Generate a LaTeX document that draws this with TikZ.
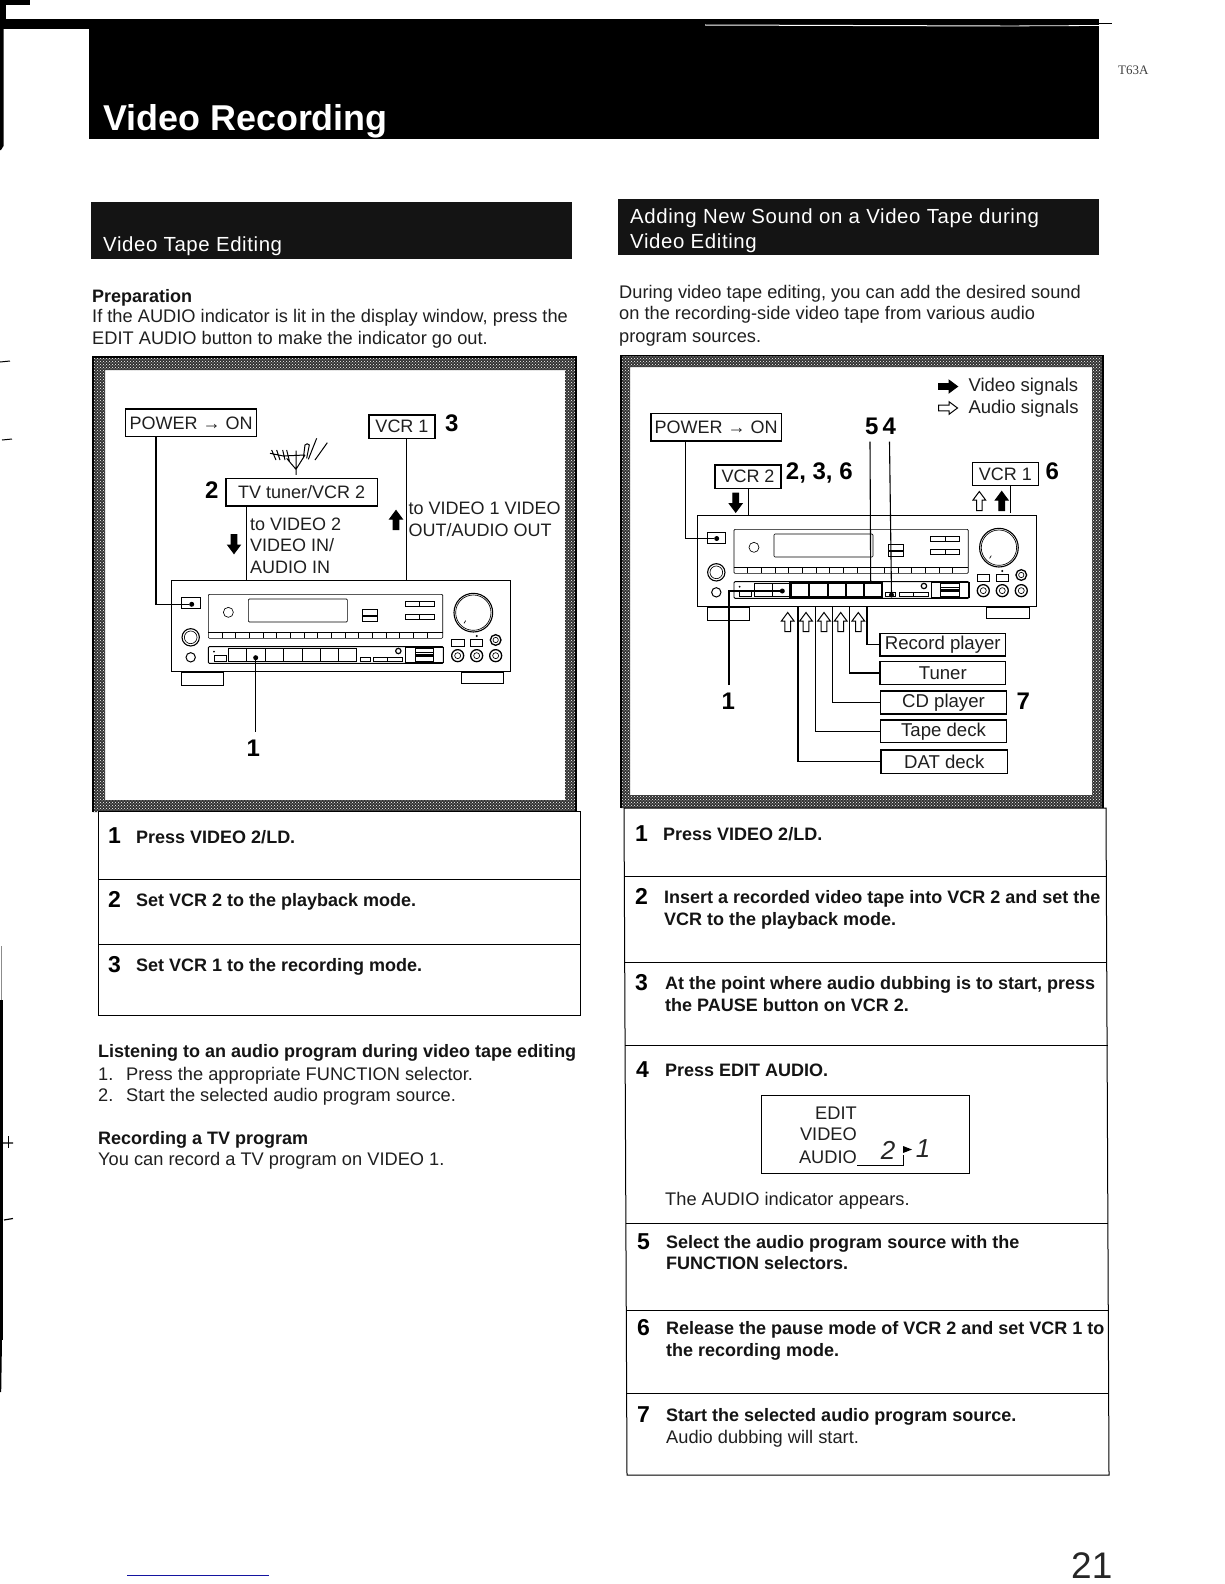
\documentclass[tikz,border=0pt]{standalone}
\usepackage{fontspec}
\setmainfont{Liberation Sans}
\newfontfamily\headfont[LetterSpace=3]{Liberation Sans}
\newfontfamily\serifsmall{Liberation Serif}
\usetikzlibrary{patterns}
\definecolor{framegray}{gray}{0.2}
\definecolor{linkblue}{RGB}{20,20,160}
\tikzset{
 body/.style={font=\fontsize{18.25}{21}\selectfont,anchor=base west,inner sep=0pt,text=black!88},
 stepb/.style={font=\bfseries\fontsize{18}{21}\selectfont,anchor=base west,inner sep=0pt,text=black!92},
 num/.style={font=\bfseries\fontsize{23}{26}\selectfont,anchor=base west,inner sep=0pt},
 callout/.style={font=\bfseries\fontsize{24}{26}\selectfont,inner sep=0pt},
 diag/.style={font=\fontsize{18}{22}\selectfont,anchor=base west,inner sep=0pt,text=black!88},
 lbox/.style={draw=black,line width=1.4pt,fill=white,inner sep=0pt,font=\fontsize{18}{22}\selectfont,text=black!88},
 srcbox/.style={lbox,font=\fontsize{18.6}{22}\selectfont},
 wire/.style={draw=black,line width=1.1pt},
 rule/.style={draw=black,line width=1pt},
 subhead/.style={font=\headfont\fontsize{20.4}{23}\selectfont,anchor=base west,inner sep=0pt,text=white},
 rcv/.style={draw=black,line width=0.65pt},
 tip/.style={circle,fill=black,inner sep=0pt,minimum size=5pt},
}
\newcommand{\barrow}[4]{\begin{scope}[shift={(#1,#2)},rotate=#3,x=1pt,y=1pt]
 \draw[line width=1pt,fill=#4] (0,9.5)--(-6.3,1)--(-2.8,1)--(-2.8,-9.5)--(2.8,-9.5)--(2.8,1)--(6.3,1)--cycle;
\end{scope}}
\newcommand{\myreceiver}[2]{\begin{scope}[shift={(#1,#2)},x=0.3333pt,y=-0.3333pt]
 \draw[rcv,line width=0.9pt] (0,0) rectangle (1017,275);
 \draw[rcv] (30,278) rectangle (155,315);
 \draw[rcv] (868,278) rectangle (995,310);
 \draw[rcv,line width=0.9pt] (30,53) rectangle (85,85);
 \draw[rcv,rounded corners=1pt] (110,43) rectangle (813,175);
 \draw[rcv] (170,97) circle (15);
 \draw[rcv,rounded corners=1pt] (230,57) rectangle (527,126);
 \draw[rcv] (572,88) rectangle (617,105) (572,108) rectangle (617,124);
 \draw[rcv] (700,65) rectangle (787,80) (743,65)--(743,80) (700,102) rectangle (787,117) (743,102)--(743,117);
 \draw[rcv,line width=1.1pt] (905,98) circle (58);
 \draw[rcv] (905,98) circle (53);
 \draw[rcv] (877,130)--(882,122);
 \draw[rcv] (110,158)--(813,158);
 \foreach \k in {151,192,233,274,315,356,397,438,479,520,561,602,643,684,725,766}{\draw[rcv] (\k,158)--(\k,175);}
 \draw[rcv,line width=1.1pt] (57,172) circle (26);
 \draw[rcv] (57,172) circle (19);
 \draw[rcv,line width=1pt] (57,232) circle (14);
 \draw[rcv,rounded corners=1pt,line width=0.9pt] (110,200) rectangle (815,250);
 \draw[rcv] (127,225) rectangle (163,245);
 \fill (127,215) circle (3);
 \draw[rcv] (170,205)--(170,245)--(555,245)--(555,205)--cycle;
 \foreach \k in {225,282,335,392,447,500}{\draw[rcv] (\k,205)--(\k,245);}
 \draw[rcv] (565,233) rectangle (595,245) (605,233) rectangle (693,245) (648,233)--(648,245);
 \draw[rcv,line width=1.2pt] (680,213) circle (8);
 \draw[rcv,line width=1.2pt] (702,202) rectangle (815,248);
 \draw[rcv] (730,205) rectangle (785,245) (730,218)--(785,218) (730,230)--(785,230);
 \fill (730,222) rectangle (785,227);
 \draw[rcv] (840,178) rectangle (877,198) (897,178) rectangle (933,198);
 \fill (915,168) circle (3.5);
 \draw[rcv,line width=1.3pt] (972,180) circle (16);
 \draw[rcv] (972,180) circle (8);
 \foreach \k in {858,915,972}{\draw[rcv,line width=1.3pt] (\k,227) circle (18); \draw[rcv] (\k,227) circle (9);}
\end{scope}}
\begin{document}
\begin{tikzpicture}[x=1pt,y=-1pt]
\useasboundingbox (0,0) rectangle (1224,1584);
% scan edge marks
\fill[black] (0,0) rectangle (30,5);
\fill[black] (0,5) rectangle (6,29);
\fill[black] (0,19.5) rectangle (90,29);
\fill[black] (0,29) -- (3.5,29) -- (3.5,146) -- (1,150) -- (0,150) -- cycle;
\draw[black,line width=0.7pt] (1099,23)--(1112,23);
\draw[black!45,line width=1pt] (1,946)--(1,1000);
\fill[black] (0,1000) rectangle (2.6,1340);
\fill[black] (0,1340) -- (2,1340) -- (1.2,1392) -- (0,1392) -- cycle;
\draw[black,line width=1pt] (0,362)--(10,361) (2,440)--(12,439);
\draw[black,line width=1.2pt] (3,1143)--(13,1143) (4,1220)--(13,1218.5);
\draw[black,line width=0.7pt] (8,1136)--(8,1148);
% header
\fill[black] (89,19.5) rectangle (1099,139);
\draw[white,line width=1pt] (705,25) -- (1000,26);
\draw[white,line width=0.8pt] (1000,26) -- (1099,25.5);
\node[font=\bfseries\fontsize{35.9}{40}\selectfont,text=white,anchor=base west,inner sep=0pt] (title) at (103,131) {Video Recording};
\node[font=\serifsmall\fontsize{13}{15}\selectfont,anchor=base west,inner sep=0pt,text=black!75] (code) at (1118,75) {T63A};
% sub heads
\fill[black!92] (91,202) rectangle (572,259);
\node[subhead] (shl) at (103,251) {Video Tape Editing};
\fill[black!92] (618,199) rectangle (1099,255);
\node[subhead] (shr1) at (630,223) {Adding New Sound on a Video Tape during};
\node[subhead] (shr2) at (630,248) {Video Editing};
% left intro
\node[stepb] (p0) at (92,302) {Preparation};
\node[body] (p1) at (92,322) {If the AUDIO indicator is lit in the display window, press the};
\node[body] (p2) at (92,344) {EDIT AUDIO button to make the indicator go out.};
% right intro
\node[body] (q1) at (619,298) {During video tape editing, you can add the desired sound};
\node[body] (q2) at (619,319) {on the recording-side video tape from various audio};
\node[body] (q3) at (619,342) {program sources.};
% frames
\fill[framegray,even odd rule] (93,358) rectangle (576,812) (105,370) rectangle (565,800);
\fill[pattern=crosshatch dots,pattern color=white,even odd rule] (93,358) rectangle (576,812) (105,370) rectangle (565,800);
\draw[black,line width=1.5pt] (93,812)--(93,357)--(576,357)--(576,812);
\fill[framegray,even odd rule] (621,356) rectangle (1103,808) (630,367) rectangle (1092,795);
\fill[pattern=crosshatch dots,pattern color=white,even odd rule] (621,356) rectangle (1103,808) (630,367) rectangle (1092,795);
\draw[black,line width=1.5pt] (621,808)--(621,355.5)--(1103,355.5)--(1103,808);
% left receiver
\myreceiver{171.7}{580}
\node[lbox,minimum width=131pt,minimum height=27.7pt] (lpower) at (191.2,422.8) {POWER → ON};
\node[lbox,minimum width=66pt,minimum height=23.3pt] (lvcr1) at (402,426.6) {VCR 1};
\node[callout] (c3) at (451.7,423.3) {3};
\node[lbox,minimum width=151.3pt,minimum height=27.7pt] (ltuner) at (301.6,492.2) {TV tuner/VCR 2};
\node[callout] (c2) at (211.7,490) {2};
\node[diag] (t1) at (250,530) {to VIDEO 2};
\node[diag] (t2) at (250,551) {VIDEO IN/};
\node[diag] (t3) at (250,573) {AUDIO IN};
\node[diag] (t4) at (408.3,514) {to VIDEO 1 VIDEO};
\node[diag] (t5) at (408.3,536) {OUT/AUDIO OUT};
\node[callout] (c1) at (253.3,748.3) {1};
\coordinate (lpa) at (156,604.3);
\node[tip] (lpd) at (191.7,604.3) {};
\draw[wire] (lpower.south -| lpa) -- (lpa) -- (lpd);
\coordinate (lvt) at (406.5,580);
\draw[wire] (lvcr1.south -| lvt) -- (lvt);
\coordinate (ltt) at (246.5,580);
\draw[wire] (ltuner.south -| ltt) -- (ltt);
\node[tip] (l1d) at (255.7,657.7) {};
\coordinate (l1e) at (255.7,731.7);
\draw[wire] (l1d) -- (l1e);
\barrow{234}{544}{180}{black}
\barrow{396}{520}{0}{black}
% antenna
\begin{scope}[shift={(270,430)},x=0.3333pt,y=-0.3333pt]
 \draw[line width=1pt] (0,70)--(40,78)--(105,75) (5,60)--(18,90) (20,60)--(30,90) (38,60)--(45,90) (50,60)--(58,92) (50,85)--(78,118)--(105,75) (78,62)--(78,135) (100,85)--(105,45) to[out=70,in=110] (118,45)--(110,85) (115,88)--(140,25) (135,90)--(172,38);
\end{scope}
% right receiver
\myreceiver{697.3}{515}
\draw[black,line width=2pt] (790,582.7) rectangle (882.3,598);
\foreach \k in {808.3,827.3,845.7,863.3}{\draw[black,line width=0.9pt] (\k,582.7)--(\k,598);}
\node[lbox,minimum width=130.3pt,minimum height=27.7pt] (rpower) at (716.2,427.2) {POWER → ON};
\node[lbox,minimum width=66pt,minimum height=23.3pt] (rvcr2) at (748,476.7) {VCR 2};
\node[callout,anchor=west] (c236) at (785.7,473.3) {2, 3, 6};
\node[lbox,minimum width=66pt,minimum height=23.3pt] (rvcr1) at (1005.3,474) {VCR 1};
\node[callout] (c6) at (1052.3,471.7) {6};
\node[callout] (c5) at (871.7,426.7) {5};
\node[callout] (c4) at (889.3,426.7) {4};
\node[callout] (c1r) at (728.3,701.7) {1};
\node[callout] (c7) at (1023.3,701) {7};
\barrow{948}{386.5}{-90}{black}
\barrow{948}{408}{-90}{white}
\node[diag,font=\fontsize{18.5}{22}\selectfont] (leg1) at (968.3,391.5) {Video signals};
\node[diag,font=\fontsize{18.5}{22}\selectfont] (leg2) at (968.3,413.5) {Audio signals};
\coordinate (rpa) at (685.5,538.5);
\node[tip] (rpd) at (716.7,538.5) {};
\draw[wire] (rpower.south -| rpa) -- (rpa) -- (rpd);
\coordinate (rvt) at (748.6,515);
\draw[wire] (rvcr2.south -| rvt) -- (rvt);
\coordinate (rvu) at (1010.7,513.3);
\draw[wire] (rvcr1.south -| rvu) -- (rvu);
\barrow{735.7}{502.7}{180}{black}
\barrow{979.3}{501}{0}{white}
\barrow{1001.7}{501}{0}{black}
\coordinate (c5a) at (870,441.7);
\coordinate (c5b) at (870.7,582.7);
\draw[wire] (c5a) -- (c5b);
\coordinate (c4a) at (889.5,441.7);
\node[tip] (c4b) at (891.5,595) {};
\draw[wire] (c4a) -- (c4b);
\coordinate (r1e) at (729,685);
\coordinate (r1c) at (729,591);
\node[tip] (r1d) at (782.3,591) {};
\draw[wire] (r1e) -- (r1c) -- (r1d);
\node[srcbox,minimum width=125.7pt,minimum height=22.7pt] (brec) at (942.8,644.7) {Record player};
\node[srcbox,minimum width=125.7pt,minimum height=22.7pt] (btun) at (942.8,673) {Tuner};
\node[srcbox,minimum width=126.4pt,minimum height=23pt] (bcd) at (943.5,702.5) {CD player};
\node[srcbox,minimum width=126.4pt,minimum height=22.7pt] (btape) at (943.5,731.4) {Tape deck};
\node[srcbox,minimum width=126.4pt,minimum height=23.3pt] (bdat) at (944.2,761.7) {DAT deck};
\coordinate (a1) at (867,606.7);
\coordinate (a2) at (849.3,606.7);
\coordinate (a3) at (832.8,606.7);
\coordinate (a4) at (815.4,606.7);
\coordinate (a5) at (798,606.7);
\draw[wire] (a1) -- (a1 |- brec.west) -- (brec.west);
\draw[wire] (a2) -- (a2 |- btun.west) -- (btun.west);
\draw[wire] (a3) -- (a3 |- bcd.west) -- (bcd.west);
\draw[wire] (a4) -- (a4 |- btape.west) -- (btape.west);
\draw[wire] (a5) -- (a5 |- bdat.west) -- (bdat.west);
\foreach \k in {787.7,806,824,840.7,858.3}{\barrow{\k}{622}{0}{white}}
% left table
\draw[rule,fill=white] (98,811) rectangle (580,1015);
\draw[rule] (98,879)--(580,879) (98,944)--(580,944);
\node[num] (ln1) at (108,843) {1};
\node[stepb] (ls1) at (136,843) {Press VIDEO 2/LD.};
\node[num] (ln2) at (108,907) {2};
\node[stepb] (ls2) at (136,906) {Set VCR 2 to the playback mode.};
\node[num] (ln3) at (108,972) {3};
\node[stepb] (ls3) at (136,971) {Set VCR 1 to the recording mode.};
\node[stepb] (h1) at (98,1057) {Listening to an audio program during video tape editing};
\node[body] (l1a) at (98,1080) {1.};
\node[body] (l1b) at (126,1080) {Press the appropriate FUNCTION selector.};
\node[body] (l2a) at (98,1101) {2.};
\node[body] (l2b) at (126,1101) {Start the selected audio program source.};
\node[stepb] (h2) at (98,1144) {Recording a TV program};
\node[body] (h2t) at (98,1165) {You can record a TV program on VIDEO 1.};
% right table
\draw[rule,fill=white] (624,808) -- (1106,808) -- (1109,1475) -- (627,1475) -- cycle;
\draw[rule] (624,876)--(1107,876) (625,962)--(1107,962) (625,1045)--(1108,1045) (626,1223)--(1108,1223) (626,1310)--(1108,1310) (627,1393)--(1109,1393);
\node[num] (rn1) at (635,841) {1};
\node[stepb] (rs1) at (663,840) {Press VIDEO 2/LD.};
\node[num] (rn2) at (635,904) {2};
\node[stepb] (rs2a) at (664,903) {Insert a recorded video tape into VCR 2 and set the};
\node[stepb] (rs2b) at (664,925) {VCR to the playback mode.};
\node[num] (rn3) at (635,990) {3};
\node[stepb] (rs3a) at (665,989) {At the point where audio dubbing is to start, press};
\node[stepb] (rs3b) at (665,1011) {the PAUSE button on VCR 2.};
\node[num] (rn4) at (636,1077) {4};
\node[stepb] (rs4) at (665,1076) {Press EDIT AUDIO.};
\draw[rule] (761,1095) rectangle (969,1173);
\node[body,anchor=base east] (e1) at (857,1119) {EDIT};
\node[body,anchor=base east] (e2) at (857,1140) {VIDEO};
\node[body,anchor=base east] (e3) at (857,1163) {AUDIO};
\coordinate (e4) at (903,1165);
\coordinate (e5) at (903,1155);
\draw[line width=0.9pt] (e3.base east) ++(0,2) -- (e4) -- (e5);
\fill (903,1146) -- (912,1149.5) -- (903,1153) -- cycle;
\node[font=\itshape\fontsize{26}{28}\selectfont,inner sep=0pt,text=black!85] (e6) at (888,1150) {2};
\node[font=\itshape\fontsize{26}{28}\selectfont,inner sep=0pt,text=black!85] (e7) at (923,1149) {1};
\node[body] (rs4b) at (665,1205) {The AUDIO indicator appears.};
\node[num] (rn5) at (637,1249) {5};
\node[stepb] (rs5a) at (666,1248) {Select the audio program source with the};
\node[stepb] (rs5b) at (666,1269) {FUNCTION selectors.};
\node[num] (rn6) at (637,1335) {6};
\node[stepb] (rs6a) at (666,1334) {Release the pause mode of VCR 2 and set VCR 1 to};
\node[stepb] (rs6b) at (666,1356) {the recording mode.};
\node[num] (rn7) at (637,1422) {7};
\node[stepb] (rs7a) at (666,1421) {Start the selected audio program source.};
\node[body] (rs7b) at (666,1443) {Audio dubbing will start.};
% footer
\draw[linkblue,line width=1pt] (127,1575)--(269,1575);
\node[font=\fontsize{37}{40}\selectfont,anchor=base west,inner sep=0pt,text=black!85] (pg) at (1071,1578) {21};
\end{tikzpicture}
\end{document}
